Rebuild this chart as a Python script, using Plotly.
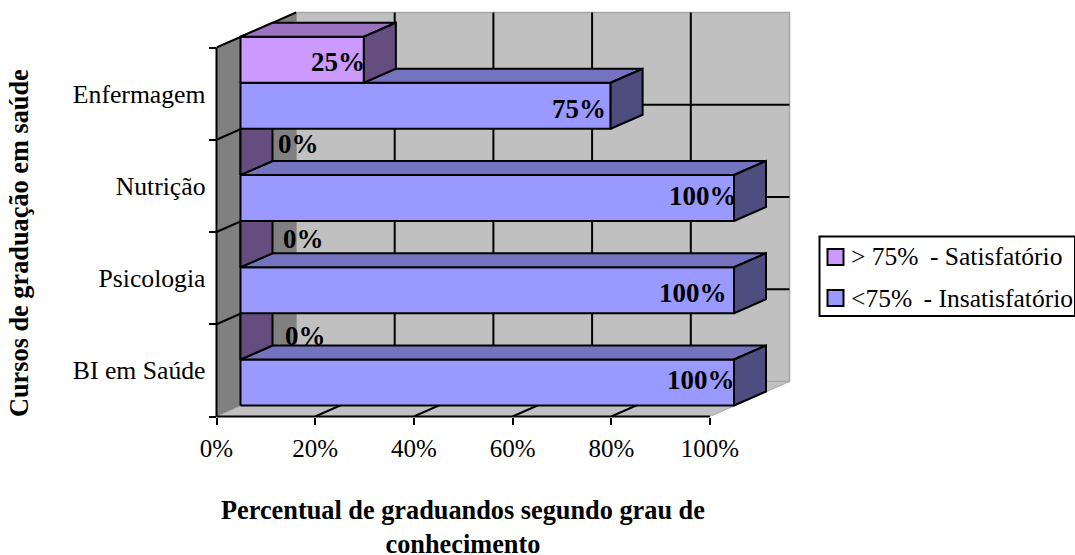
import plotly.graph_objects as go

# Chart data
categories = ["BI em Saúde", "Psicologia", "Nutrição", "Enfermagem"]
satisfatorio = [0, 0, 0, 25]
insatisfatorio = [100, 100, 100, 75]
percent_ticks = [0, 20, 40, 60, 80, 100]

W, H = 1075, 555
SERIF = "Liberation Serif"

# Front plane of the plot box, in pixels
LEFT, RIGHT, BOTTOM, TOP = 216.5, 710.0, 416.5, 47.5
PX_X = (RIGHT - LEFT) / 100.0
PX_Y = (BOTTOM - TOP) / len(categories)

# Projection of the 3D box, converted to axis units
BOX_DX, BOX_DY = 79.5 / PX_X, 35 / PX_Y
BAR_DX, BAR_DY = 32 / PX_X, 14 / PX_Y
BAR_INSET = 24 / PX_X
BAR_FLOOR = 11 / PX_Y
BAR_THICK = 46 / PX_Y

# The subplot covers the whole projected box, not only its front plane
PAD = 3
n = len(categories)
x_max = 100 + BOX_DX + PAD / PX_X
y_max = n + BOX_DY + PAD / PX_Y
plot_right = LEFT + x_max * PX_X
plot_top = BOTTOM - y_max * PX_Y

fig = go.Figure()


def poly(xs, ys, fill=None, line="black", width=2):
    closed = fill is not None
    fig.add_trace(go.Scatter(
        x=list(xs) + ([xs[0]] if closed else []),
        y=list(ys) + ([ys[0]] if closed else []),
        mode="lines",
        fill="toself" if closed else None,
        fillcolor=fill,
        line=dict(color=line, width=width),
        hoverinfo="skip",
        showlegend=False,
    ))


def bar3d(value, y0, front, top, side):
    x0 = BAR_INSET
    x1 = BAR_INSET + value
    y1 = y0 + BAR_THICK
    poly([x0, x1, x1, x0], [y0, y0, y1, y1], front)
    poly([x0, x0 + BAR_DX, x1 + BAR_DX, x1],
         [y1, y1 + BAR_DY, y1 + BAR_DY, y1], top)
    poly([x1, x1 + BAR_DX, x1 + BAR_DX, x1],
         [y0, y0 + BAR_DY, y1 + BAR_DY, y1], side)


EDGE = "#A6A6A6"

# Walls and floor
poly([BOX_DX, 100 + BOX_DX, 100 + BOX_DX, BOX_DX],
     [BOX_DY, BOX_DY, n + BOX_DY, n + BOX_DY], "#C0C0C0", EDGE, 1.5)
poly([0, BOX_DX, BOX_DX, 0], [0, BOX_DY, n + BOX_DY, n], "#808080", "#808080", 1)
poly([0, 100, 100 + BOX_DX, BOX_DX], [0, 0, BOX_DY, BOX_DY], "#C0C0C0", EDGE, 1)

# Gridlines on the back wall, the floor and the left wall
for t in percent_ticks[1:-1]:
    poly([t + BOX_DX, t + BOX_DX], [BOX_DY, n + BOX_DY])
    poly([t, t + BOX_DX], [0, BOX_DY])
for r in range(1, n + 1):
    poly([0, BOX_DX], [r, r + BOX_DY])
    if r < n:
        poly([BOX_DX, 100 + BOX_DX], [r + BOX_DY, r + BOX_DY])

# Bars, lowest category first so upper rows overlap correctly
for i in range(n):
    base = i + BAR_FLOOR
    bar3d(insatisfatorio[i], base, "#9999FF", "#7373BF", "#4D4D80")
    bar3d(satisfatorio[i], base + BAR_THICK, "#CC99FF", "#9973BF", "#664D80")

# Value labels: hand-placed offsets from the end of each bar, in pixels
label_offsets_blue = [(3, -3), (-5, 3), (5, -2), (-3, 3)]
label_offsets_purple = [(87, -1), (85, -5), (80, -8), (3, 2)]
annotations = []
for i in range(n):
    for val, base, off in (
        (insatisfatorio[i], i + BAR_FLOOR, label_offsets_blue[i]),
        (satisfatorio[i], i + BAR_FLOOR + BAR_THICK, label_offsets_purple[i]),
    ):
        annotations.append(dict(
            x=BAR_INSET + val, y=base + BAR_THICK / 2,
            xref="x", yref="y", xanchor="right", yanchor="middle",
            xshift=off[0], yshift=-off[1], showarrow=False,
            text=f"<b>{val}%</b>",
            font=dict(family=SERIF, size=27, color="black"),
        ))

# Rotated category-axis title
annotations.append(dict(
    x=20 / W, y=1 - 243 / H, xref="paper", yref="paper",
    xanchor="center", yanchor="middle",
    showarrow=False, textangle=-90,
    text="<b>Cursos de graduação em saúde</b>",
    font=dict(family=SERIF, size=26.3, color="black"),
))

# Axis lines of the front plane
shapes = [
    dict(type="line", xref="paper", yref="paper",
         x0=LEFT / W, x1=LEFT / W, y0=1 - BOTTOM / H, y1=1 - TOP / H,
         line=dict(color="black", width=2)),
    dict(type="line", xref="paper", yref="paper",
         x0=LEFT / W, x1=RIGHT / W, y0=1 - BOTTOM / H, y1=1 - BOTTOM / H,
         line=dict(color="black", width=2)),
]

# Legend box contents
legend_items = ["> 75% \u2009- Satisfatório", "<75% \u2009- Insatisfatório"]
legend_colors = ["#CC99FF", "#9999FF"]
legend_rows = [257, 298]
shapes.append(dict(type="rect", xref="paper", yref="paper",
                   x0=819.5 / W, x1=1075 / W, y0=1 - 316 / H, y1=1 - 236.5 / H,
                   line=dict(color="black", width=2), fillcolor="white"))
for label, color, row in zip(legend_items, legend_colors, legend_rows):
    shapes.append(dict(type="rect", xref="paper", yref="paper",
                       x0=827.5 / W, x1=843.5 / W,
                       y0=1 - (row + 8) / H, y1=1 - (row - 8) / H,
                       line=dict(color="black", width=2), fillcolor=color))
    annotations.append(dict(
        x=849 / W, y=1 - row / H, xref="paper", yref="paper",
        xanchor="left", yanchor="middle", showarrow=False, text=label,
        font=dict(family=SERIF, size=25.5, color="black"),
    ))

# Axis title, centred under the front plane of the box
annotations.append(dict(
    x=(LEFT + RIGHT) / 2 / W, y=1 - 527 / H, xref="paper", yref="paper",
    yanchor="middle", showarrow=False,
    text="<b>Percentual de graduandos segundo grau de<br>conhecimento</b>",
    font=dict(family=SERIF, size=26.3, color="black"),
))

fig.update_layout(
    width=W, height=H,
    margin=dict(l=0, r=0, t=0, b=0, autoexpand=False),
    paper_bgcolor="white", plot_bgcolor="rgba(0,0,0,0)",
    showlegend=False,
    annotations=annotations, shapes=shapes,
    xaxis=dict(
        domain=[LEFT / W, plot_right / W], range=[0, x_max],
        tickmode="array", tickvals=percent_ticks,
        ticktext=[f"{t}%" for t in percent_ticks],
        ticks="outside", ticklen=7, tickwidth=2, tickcolor="black",
        ticklabelstandoff=2,
        showline=False, showgrid=False, zeroline=False,
        tickfont=dict(family=SERIF, size=25, color="black"),
    ),
    yaxis=dict(
        domain=[1 - BOTTOM / H, 1 - plot_top / H], range=[0, y_max],
        tickmode="array",
        tickvals=[i + 0.5 for i in range(n)], ticktext=categories,
        ticks="", ticklabelstandoff=10,
        minor=dict(tickmode="array", tickvals=list(range(n + 1)),
                   ticks="outside", ticklen=7, tickwidth=2, tickcolor="black"),
        showline=False, showgrid=False, zeroline=False,
        tickfont=dict(family=SERIF, size=25.7, color="black"),
    ),
)

fig.write_html("out.html")
